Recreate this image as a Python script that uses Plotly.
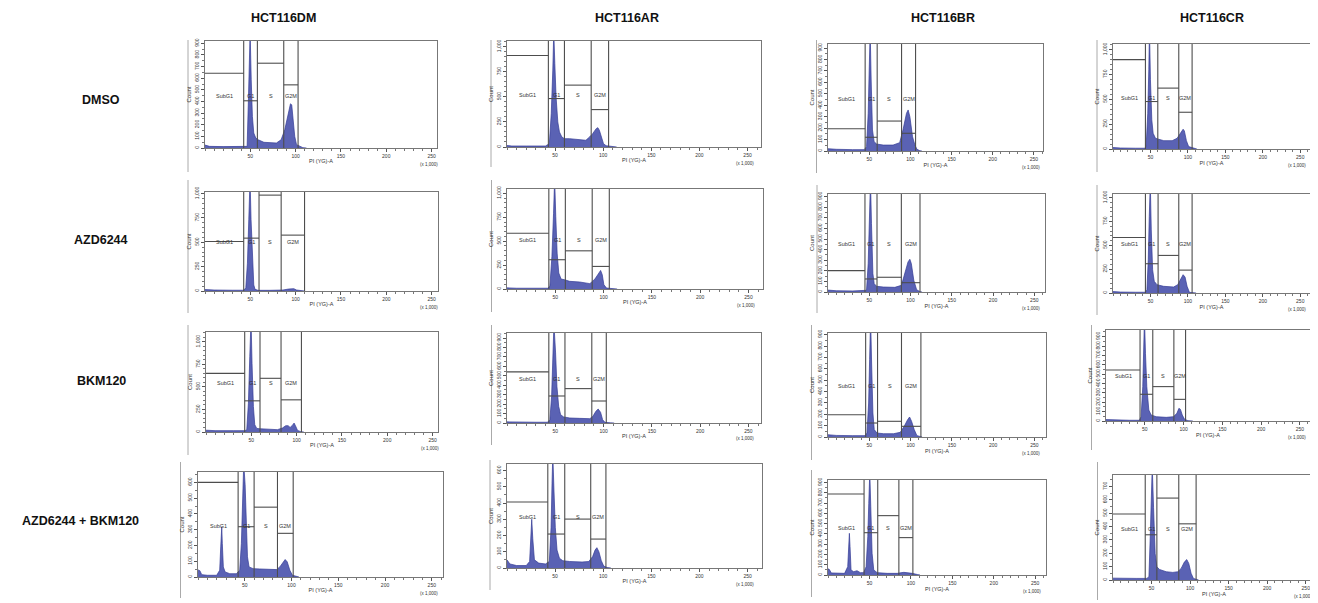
import plotly.graph_objects as go

# The page body adds an 8px margin, so the figure is drawn 8px smaller and
# every pixel position below is measured in the 1318x603 screenshot frame.
PAGE_W, PAGE_H, BODY = 1318, 603, 8
W, H = PAGE_W - BODY, PAGE_H - BODY

COLUMNS = ["HCT116DM", "HCT116AR", "HCT116BR", "HCT116CR"]
ROWS = ["DMSO", "AZD6244", "BKM120", "AZD6244 + BKM120"]
GATE_NAMES = ["SubG1", "G1", "S", "G2M"]
X_TICKS = [50, 100, 150, 200, 250]
Y_TICKS_100_900 = [0, 100, 200, 300, 400, 500, 600, 700, 800, 900]
Y_TICKS_250 = [0, 250, 500, 750, 1000]
Y_TICKS_100_600 = [0, 100, 200, 300, 400, 500, 600]
Y_TICKS_100_700 = [0, 100, 200, 300, 400, 500, 600, 700]

# ---------------- Row 1: DMSO ----------------
DM_DMSO_X = [0, 5, 20, 40, 46.5, 48, 49, 49.8, 51, 52.3, 53.8, 56, 58.6, 65, 78.8, 84, 88, 91.6, 94.3, 95.7, 97.2, 99, 101, 105, 108, 112]
DM_DMSO_Y = [25, 14, 12, 12, 14, 443, 786, 1000, 586, 271, 129, 86, 71, 49, 43, 71, 157, 300, 380, 371, 271, 100, 29, 14, 3, 0]
DM_DMSO_GATE_X = [0, 42.7, 57.8, 86.9, 102.7]
DM_DMSO_GATE_Y = [643, 406, 729, 543]
DM_DMSO_YMAX = 920

AR_DMSO_X = [0, 5, 20, 40, 44, 46, 47.6, 48.6, 49.7, 51, 52.8, 54.5, 57, 59.7, 65, 72, 82, 85.8, 89, 92.7, 94.4, 96, 98, 100.3, 103, 110, 114]
AR_DMSO_Y = [15, 10, 10, 10, 33, 333, 767, 1150, 833, 500, 250, 150, 100, 83, 83, 77, 67, 100, 133, 183, 193, 167, 100, 33, 13, 7, 0]
AR_DMSO_GATE_X = [0, 43, 59.7, 87.5, 105.6]
AR_DMSO_GATE_Y = [913, 483, 617, 373]
AR_DMSO_YMAX = 1057

BR_DMSO_X = [0, 10, 30, 44, 46.8, 48.8, 50, 51.2, 52.4, 54, 56, 59, 67, 79, 87, 91, 95.3, 97.3, 99.4, 102.6, 105.5, 108, 111.5, 114]
BR_DMSO_Y = [20, 15, 12, 12, 38, 330, 708, 1050, 621, 184, 82, 61, 52, 52, 73, 184, 330, 359, 300, 125, 52, 15, 3, 0]
BR_DMSO_GATE_X = [0, 45.1, 59.7, 89.3, 106.3]
BR_DMSO_GATE_Y = [195, 120, 262, 155]
BR_DMSO_YMAX = 936

CR_DMSO_X = [0, 10, 30, 42, 44.2, 46.4, 47.8, 48.7, 50, 51.8, 53.6, 56.7, 61, 67.8, 79, 85.6, 90, 93.6, 95.3, 98, 101, 107.8, 112]
CR_DMSO_Y = [15, 10, 8, 8, 24, 360, 798, 1200, 697, 293, 158, 108, 98, 84, 84, 108, 158, 199, 182, 84, 24, 7, 0]
CR_DMSO_GATE_X = [0, 43.3, 59.8, 87.8, 105.6]
CR_DMSO_GATE_Y = [900, 478, 613, 370]
CR_DMSO_YMAX = 1057

# ---------------- Row 2: AZD6244 ----------------
DM_AZD_X = [0, 10, 30, 43, 45, 46.8, 48.3, 49.7, 50.8, 52.3, 53.8, 55.2, 58.5, 71.5, 86, 92, 95, 98, 101, 106, 110]
DM_AZD_Y = [15, 10, 8, 8, 34, 285, 732, 1150, 732, 285, 62, 17, 7, 7, 10, 20, 24, 24, 10, 4, 0]
DM_AZD_GATE_X = [0, 42.7, 59.6, 84, 109.8]
DM_AZD_GATE_Y = [509, 543, 985, 574]
DM_AZD_YMAX = 1017

AR_AZD_X = [0, 10, 30, 42, 44.4, 46.5, 48.2, 49.3, 50.5, 51.9, 53.6, 56, 59.6, 64.8, 75.3, 85.8, 91, 94.4, 96.9, 98.6, 100.3, 103, 110, 114]
AR_AZD_Y = [12, 8, 8, 8, 28, 340, 792, 1150, 757, 375, 167, 104, 97, 80, 73, 56, 104, 149, 194, 149, 45, 10, 3, 0]
AR_AZD_GATE_X = [0, 43.3, 60.4, 88.2, 105.9]
AR_AZD_GATE_Y = [583, 306, 399, 236]
AR_AZD_YMAX = 1045

BR_AZD_X = [0, 10, 30, 44, 46.7, 48.7, 50.3, 51.5, 52.7, 54.4, 56, 58.8, 67, 81, 89, 93, 97, 99.2, 101, 104, 107.4, 111.5, 114]
BR_AZD_Y = [18, 12, 10, 10, 16, 268, 678, 1050, 647, 174, 79, 54, 47, 44, 63, 174, 284, 309, 268, 110, 22, 3, 0]
BR_AZD_GATE_X = [0, 44.8, 59.4, 88.9, 111.5]
BR_AZD_GATE_Y = [202, 123, 139, 88]
BR_AZD_YMAX = 925

CR_AZD_X = [0, 10, 30, 43, 45.3, 47.1, 48.4, 49.8, 51.1, 52.9, 55.1, 58.7, 67.6, 81, 86.4, 90, 93.6, 96.2, 98.9, 102, 107.8, 111]
CR_AZD_Y = [15, 10, 8, 8, 35, 348, 801, 1150, 662, 244, 122, 87, 70, 63, 87, 139, 192, 167, 70, 7, 2, 0]
CR_AZD_GATE_X = [0, 43.3, 60.2, 87.8, 105.6]
CR_AZD_GATE_Y = [582, 307, 394, 240]
CR_AZD_YMAX = 1038

# ---------------- Row 3: BKM120 ----------------
DM_BKM_X = [0, 10, 30, 43, 45, 46.8, 48.3, 49.7, 50.8, 52.3, 53.8, 56, 58.5, 67.7, 78.8, 84.3, 88, 90.6, 92.8, 95, 97.2, 98.7, 101, 104.6, 108]
DM_BKM_Y = [20, 15, 15, 15, 26, 320, 835, 1250, 761, 283, 81, 40, 37, 33, 26, 44, 70, 70, 51, 70, 99, 70, 18, 4, 0]
DM_BKM_GATE_X = [0, 42.7, 59.6, 82.8, 105.3]
DM_BKM_GATE_Y = [651, 346, 596, 357]
DM_BKM_YMAX = 1110

AR_BKM_X = [0, 10, 30, 42, 44.4, 46.2, 47.9, 48.6, 50.3, 51.7, 53.5, 55.5, 58.7, 65, 75.3, 85.8, 89, 92, 94.4, 96.9, 99, 101.4, 107, 111]
AR_BKM_Y = [12, 8, 8, 8, 35, 283, 742, 1050, 742, 389, 177, 88, 64, 53, 49, 46, 71, 124, 148, 113, 35, 7, 2, 0]
AR_BKM_GATE_X = [0, 43.3, 60, 87.8, 102.8]
AR_BKM_GATE_Y = [541, 286, 364, 233]
AR_BKM_YMAX = 953

BR_BKM_X = [0, 10, 30, 45, 47.2, 49.2, 50.4, 51.6, 52.8, 54.4, 56, 59.3, 67.3, 79.4, 87.5, 92.3, 96.4, 98.8, 101.2, 104.4, 107.7, 111.7, 114]
BR_BKM_Y = [20, 14, 12, 12, 35, 299, 680, 1050, 651, 211, 65, 35, 29, 29, 41, 94, 152, 176, 138, 65, 12, 2, 0]
BR_BKM_GATE_X = [0, 45.6, 60, 89, 112.5]
BR_BKM_GATE_Y = [196, 123, 138, 94]
BR_BKM_YMAX = 915

CR_BKM_X = [0, 10, 30, 43, 45.3, 47.4, 48.7, 49.6, 50.9, 52.6, 55.2, 58.2, 64.7, 77.6, 87, 91.4, 94, 96, 98.3, 101.3, 105.6, 112]
CR_BKM_Y = [15, 10, 8, 8, 46, 367, 722, 1100, 722, 367, 117, 64, 46, 39, 46, 82, 135, 124, 64, 18, 4, 0]
CR_BKM_GATE_X = [0, 43.9, 60.3, 87.5, 102.6]
CR_BKM_GATE_Y = [544, 285, 367, 231]
CR_BKM_YMAX = 971

# ---------------- Row 4: AZD6244 + BKM120 ----------------
DM_COMBO_X = [0, 2, 4, 10, 20, 23.2, 24.3, 25.4, 26, 27.1, 29, 34, 41, 44.6, 46.4, 47.9, 48.9, 50.4, 51.4, 52.9, 54.6, 58.9, 66, 76.8, 83.9, 87.5, 91, 93.2, 95.4, 98.2, 101, 105, 108]
DM_COMBO_Y = [45, 40, 15, 11, 11, 43, 191, 319, 213, 64, 32, 21, 21, 43, 213, 532, 720, 585, 319, 128, 64, 53, 51, 47, 47, 64, 96, 111, 96, 43, 11, 4, 0]
DM_COMBO_GATE_X = [0, 42.9, 60, 85, 101.8]
DM_COMBO_GATE_Y = [600, 319, 443, 277]
DM_COMBO_YMAX = 666

AR_COMBO_X = [0, 3, 10, 20, 23.5, 24.8, 25.7, 26.8, 28.5, 33, 40, 44, 45.8, 46.8, 47.6, 48.8, 50.2, 52, 54.5, 58, 65, 78, 85, 89, 91.5, 93.4, 95.5, 98, 100.5, 104, 108]
AR_COMBO_Y = [50, 25, 15, 15, 40, 200, 300, 180, 50, 30, 25, 40, 250, 520, 700, 480, 250, 110, 60, 45, 40, 37, 40, 70, 110, 125, 100, 45, 12, 3, 0]
AR_COMBO_GATE_X = [0, 42.4, 60, 87, 102.8]
AR_COMBO_GATE_Y = [406, 209, 301, 178]
AR_COMBO_YMAX = 640

BR_COMBO_X = [0, 1.5, 4, 10, 20, 23.8, 25, 25.8, 26.6, 27.8, 31, 35, 39, 43, 46, 48, 49.2, 50.4, 51.6, 53.2, 55.2, 59.3, 71.4, 83.5, 91.5, 95.6, 101.6, 107.7, 111]
BR_COMBO_Y = [60, 55, 20, 16, 16, 81, 341, 406, 276, 49, 32, 42, 23, 23, 81, 373, 698, 1000, 666, 211, 49, 23, 16, 16, 26, 23, 16, 5, 0]
BR_COMBO_GATE_X = [0, 43.5, 60, 85.5, 102.4]
BR_COMBO_GATE_Y = [789, 412, 578, 364]
BR_COMBO_YMAX = 925

CR_COMBO_X = [0, 10, 30, 44, 46.6, 48.3, 49.6, 50.9, 52.6, 54.7, 56.9, 60.3, 69, 77.6, 84, 88.4, 92.7, 95.7, 98.3, 101.3, 104.3, 107.8, 111]
CR_COMBO_Y = [14, 12, 12, 12, 25, 322, 619, 850, 545, 198, 99, 79, 62, 57, 62, 87, 136, 153, 124, 50, 12, 3, 0]
CR_COMBO_GATE_X = [0, 41.8, 56.9, 85.3, 107.8]
CR_COMBO_GATE_Y = [495, 339, 614, 421]
CR_COMBO_YMAX = 787

PANEL_DATA = [
    [(DM_DMSO_X, DM_DMSO_Y, DM_DMSO_GATE_X, DM_DMSO_GATE_Y, DM_DMSO_YMAX, Y_TICKS_100_900),
     (AR_DMSO_X, AR_DMSO_Y, AR_DMSO_GATE_X, AR_DMSO_GATE_Y, AR_DMSO_YMAX, Y_TICKS_250),
     (BR_DMSO_X, BR_DMSO_Y, BR_DMSO_GATE_X, BR_DMSO_GATE_Y, BR_DMSO_YMAX, Y_TICKS_100_900),
     (CR_DMSO_X, CR_DMSO_Y, CR_DMSO_GATE_X, CR_DMSO_GATE_Y, CR_DMSO_YMAX, Y_TICKS_250)],
    [(DM_AZD_X, DM_AZD_Y, DM_AZD_GATE_X, DM_AZD_GATE_Y, DM_AZD_YMAX, Y_TICKS_250),
     (AR_AZD_X, AR_AZD_Y, AR_AZD_GATE_X, AR_AZD_GATE_Y, AR_AZD_YMAX, Y_TICKS_250),
     (BR_AZD_X, BR_AZD_Y, BR_AZD_GATE_X, BR_AZD_GATE_Y, BR_AZD_YMAX, Y_TICKS_100_900),
     (CR_AZD_X, CR_AZD_Y, CR_AZD_GATE_X, CR_AZD_GATE_Y, CR_AZD_YMAX, Y_TICKS_250)],
    [(DM_BKM_X, DM_BKM_Y, DM_BKM_GATE_X, DM_BKM_GATE_Y, DM_BKM_YMAX, Y_TICKS_250),
     (AR_BKM_X, AR_BKM_Y, AR_BKM_GATE_X, AR_BKM_GATE_Y, AR_BKM_YMAX, Y_TICKS_100_900),
     (BR_BKM_X, BR_BKM_Y, BR_BKM_GATE_X, BR_BKM_GATE_Y, BR_BKM_YMAX, Y_TICKS_100_900),
     (CR_BKM_X, CR_BKM_Y, CR_BKM_GATE_X, CR_BKM_GATE_Y, CR_BKM_YMAX, Y_TICKS_100_900)],
    [(DM_COMBO_X, DM_COMBO_Y, DM_COMBO_GATE_X, DM_COMBO_GATE_Y, DM_COMBO_YMAX, Y_TICKS_100_600),
     (AR_COMBO_X, AR_COMBO_Y, AR_COMBO_GATE_X, AR_COMBO_GATE_Y, AR_COMBO_YMAX, Y_TICKS_100_600),
     (BR_COMBO_X, BR_COMBO_Y, BR_COMBO_GATE_X, BR_COMBO_GATE_Y, BR_COMBO_YMAX, Y_TICKS_100_900),
     (CR_COMBO_X, CR_COMBO_Y, CR_COMBO_GATE_X, CR_COMBO_GATE_Y, CR_COMBO_YMAX, Y_TICKS_100_700)],
]

# Layout geometry (screenshot pixels): frame left, right, top, bottom, x-axis max
FRAMES = [
    [(205, 437, 41, 148, 256), (507, 761, 41, 147, 264), (828, 1043, 44, 151, 261), (1113, 1310, 44, 149, 263)],
    [(205, 438, 192, 291, 257), (507, 763, 189, 289, 265), (828, 1045, 194, 292, 263), (1113, 1310, 194, 293, 263)],
    [(206, 438, 332, 432, 256), (507, 761, 333, 423, 263), (828, 1046, 333, 437, 264), (1106, 1310, 330, 421, 263)],
    [(198, 443, 472, 577, 262), (507, 762, 464, 568, 265), (828, 1046, 480, 575, 263), (1113, 1315, 475, 580, 262)],
]
# Outer panel edge lines (x, y_top, y_bottom) in screenshot pixels
OUTER = [
    [(188, 40, 172), (491, 40, 167), (816.5, 40, 173), (1097, 40, 172)],
    [(188, 180, 313), (491.5, 180, 312), (817, 185, 313), (1097, 185, 315)],
    [(188, 325, 455), (491.5, 325, 445), (811.5, 325, 460), (1091.5, 325, 450)],
    [(180.5, 462, 598), (490, 460, 590), (811.5, 470, 597), (1097.5, 462, 600)],
]
HEADER_X = [283, 627, 943, 1212]
ROW_LABEL_POS = [(101, 100), (101, 240), (101, 381), (80, 521)]

FONT = "Liberation Sans, Arial, sans-serif"
FILL = "rgba(90,98,180,1)"
EDGE = "#343b95"
GATE = "#4d4d4d"


def px_x(p):
    return (p - BODY) / W


def px_y(p):
    return 1 - (p - BODY) / H


fig = go.Figure()
layout = {}
shapes = []
annotations = []


def note(**kw):
    kw.setdefault("xanchor", "center")
    kw.setdefault("yanchor", "middle")
    kw.setdefault("showarrow", False)
    annotations.append(kw)


k = 0
for r in range(4):
    for c in range(4):
        k += 1
        xs, ys, gx, gy, ymax, yticks = PANEL_DATA[r][c]
        L, R, T, B, xmax = FRAMES[r][c]
        sfx = "" if k == 1 else str(k)
        xa, ya = "x" + sfx, "y" + sfx
        fig.add_trace(go.Scatter(
            x=xs, y=ys, xaxis=xa, yaxis=ya, mode="lines", fill="tozeroy",
            fillcolor=FILL, line=dict(color=EDGE, width=0.7),
            hoverinfo="skip", showlegend=False))
        layout["xaxis" + sfx] = dict(
            domain=[px_x(L), px_x(R)], anchor=ya, range=[0, xmax], automargin=False,
            tickvals=X_TICKS, ticktext=[str(v) for v in X_TICKS],
            ticks="outside", ticklen=3, tickwidth=0.6, tickcolor="#555",
            minor=dict(dtick=10, tick0=0, ticks="outside", ticklen=2, tickcolor="#777", tickwidth=0.5),
            tickfont=dict(size=5, family=FONT, color="#333"),
            showline=True, linecolor="#777", linewidth=1, mirror=True,
            showgrid=False, zeroline=False, fixedrange=True,
            title=dict(text="PI (YG)-A", font=dict(size=5.5, family=FONT, color="#333"), standoff=1),
        )
        layout["yaxis" + sfx] = dict(
            domain=[px_y(B), px_y(T)], anchor=xa, range=[0, ymax], automargin=False,
            tickvals=yticks, ticktext=[f"{v:,}" for v in yticks], tickangle=-90,
            ticks="outside", ticklen=3, tickwidth=0.6, tickcolor="#555",
            minor=dict(dtick=50, tick0=0, ticks="outside", ticklen=2, tickcolor="#777", tickwidth=0.5),
            tickfont=dict(size=5, family=FONT, color="#333"),
            showline=True, linecolor="#777", linewidth=1, mirror=True,
            showgrid=False, zeroline=False, fixedrange=True,
            title=dict(text="Count", font=dict(size=6, family=FONT, color="#333"), standoff=1),
        )
        # gate vertical lines
        for g in gx[1:]:
            shapes.append(dict(type="line", xref=xa, yref=ya + " domain", x0=g, x1=g, y0=0, y1=1,
                               line=dict(color=GATE, width=1.1)))
        # gate horizontal levels and names
        for i in range(4):
            shapes.append(dict(type="line", xref=xa, yref=ya, x0=gx[i], x1=gx[i + 1], y0=gy[i], y1=gy[i],
                               line=dict(color=GATE, width=1.1)))
            note(xref=xa, yref=ya + " domain", x=(gx[i] + gx[i + 1]) / 2, y=0.49,
                 text=GATE_NAMES[i], font=dict(size=5.5, family=FONT, color="#333"))
        note(xref=xa, yref=ya + " domain", x=250, y=0, yshift=-16, xshift=-3,
             text="(x 1,000)", font=dict(size=4.5, family=FONT, color="#333"))
        ox, oy0, oy1 = OUTER[r][c]
        shapes.append(dict(type="line", xref="paper", yref="paper", x0=px_x(ox), x1=px_x(ox),
                           y0=px_y(oy0), y1=px_y(oy1), line=dict(color="#aaa", width=1)))

for c, name in enumerate(COLUMNS):
    note(xref="paper", yref="paper", x=px_x(HEADER_X[c]), y=px_y(18), text="<b>%s</b>" % name,
         font=dict(size=12.5, family=FONT, color="#111"))
for r, name in enumerate(ROWS):
    px, py = ROW_LABEL_POS[r]
    note(xref="paper", yref="paper", x=px_x(px), y=px_y(py), text="<b>%s</b>" % name,
         font=dict(size=12.5, family=FONT, color="#111"))

fig.update_layout(
    width=W, height=H, margin=dict(l=0, r=0, t=0, b=0, autoexpand=False),
    paper_bgcolor="white", plot_bgcolor="white",
    shapes=shapes, annotations=annotations, **layout)

fig.write_html("out.html")
